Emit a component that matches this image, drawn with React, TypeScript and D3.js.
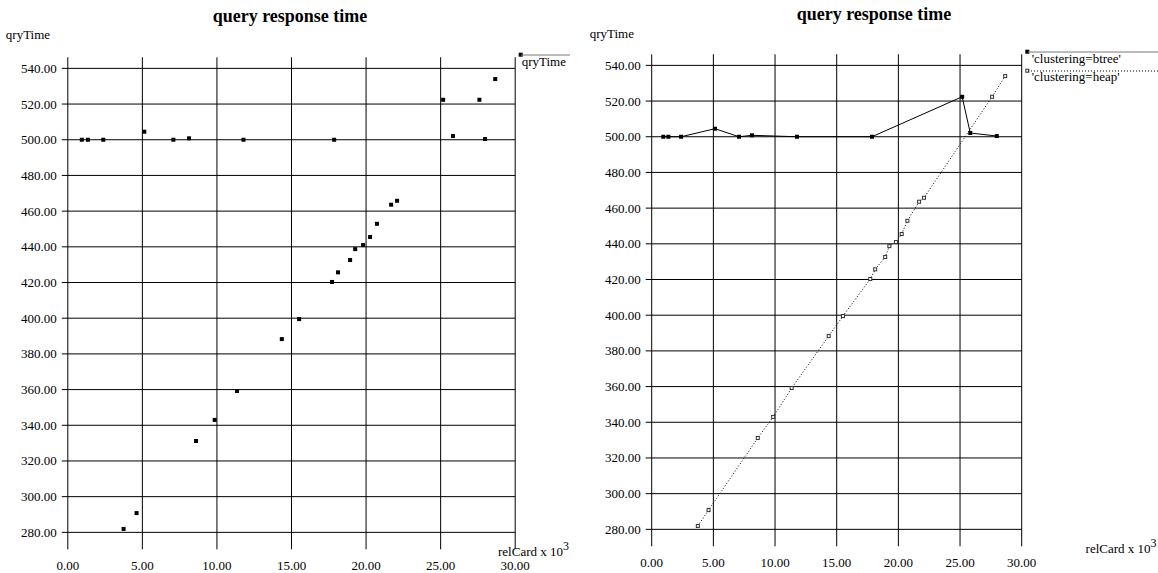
import React from 'react';
import { scaleLinear, line } from 'd3';

// values (relCard in thousands, qryTime)
const btreeCard = [0.94, 1.35, 2.38, 5.13, 7.08, 8.13, 11.78, 17.86, 25.17, 25.83, 27.98];
const btreeTime = [500.0, 500.0, 500.0, 504.5, 500.0, 500.8, 500.0, 500.0, 522.4, 502.1, 500.4];
const heapCard = [3.74, 4.61, 8.6, 9.85, 11.35, 14.35, 15.51, 17.72, 18.12, 18.93, 19.27, 19.8, 20.27, 20.73, 21.68, 22.08, 27.6, 28.66];
const heapTime = [281.9, 290.8, 331.2, 343.0, 359.2, 388.3, 399.5, 420.3, 425.7, 432.6, 438.7, 441.0, 445.5, 452.9, 463.6, 465.8, 522.4, 534.0];
const xTicks = [0, 5, 10, 15, 20, 25, 30];
const yTicks = [280, 300, 320, 340, 360, 380, 400, 420, 440, 460, 480, 500, 520, 540];
const legendRight = ["'clustering=btree'", "'clustering=heap'"];

const FONT = "Liberation Serif";
const txt = { fontFamily: FONT };

type Pt = [number, number];
const zip = (a: number[], b: number[]): Pt[] => a.map((v, i) => [v, b[i]]);

function Frame({ x, y, titleX, titleY, labelY, tickBase, relX, relY }: any) {
  const [x0, x1] = x.range();
  const [yb, yt] = y.range();
  return (
    <g>
      <text x={titleX} y={titleY} textAnchor="middle" fontWeight="bold" fontSize={18} style={txt}>query response time</text>
      <text x={x0 - 62} y={labelY} fontSize={13} style={txt}>qryTime</text>
      {xTicks.map((t) => (
        <g key={'x' + t}>
          <line x1={x(t)} x2={x(t)} y1={yt} y2={yb} stroke="#000" />
          <text x={x(t)} y={tickBase} textAnchor="middle" fontSize={13} style={txt}>{t.toFixed(2)}</text>
        </g>
      ))}
      {yTicks.map((t) => (
        <g key={'y' + t}>
          <line x1={x0 - 6} x2={x1} y1={y(t)} y2={y(t)} stroke="#000" />
          <text x={x0 - 11} y={y(t) + 4.5} textAnchor="end" fontSize={13} style={txt}>{t.toFixed(2)}</text>
        </g>
      ))}
      <text x={relX} y={relY} fontSize={13} style={txt}>
        relCard x 10<tspan dy={-6} fontSize={12}>3</tspan>
      </text>
    </g>
  );
}

export default function App() {
  const btree = zip(btreeCard, btreeTime);
  const heap = zip(heapCard, heapTime);
  const all = [...btree, ...heap];

  const xL = scaleLinear().domain([0, 30]).range([67.8, 515.2]);
  const yL = scaleLinear().domain([270.5, 546.2]).range([549.3, 57.3]);
  const xR = scaleLinear().domain([0, 30]).range([651.7, 1021.7]);
  const yR = scaleLinear().domain([270.5, 546.2]).range([546.3, 54.3]);

  const btreeLine = line<Pt>().x((d) => xR(d[0])).y((d) => yR(d[1]));
  const heapLine = line<Pt>().x((d) => xR(d[0])).y((d) => yR(d[1]));

  return (
    <svg width={1158} height={573} style={{ position: 'fixed', left: 0, top: 0, background: '#fff' }}
      fontFamily={FONT} fill="#000">
      <rect width={1158} height={573} fill="#fff" />
      {/* left: scatter of all runs */}
      <Frame x={xL} y={yL} titleX={290} titleY={22} labelY={39} tickBase={570} relX={498} relY={556} />
      {all.map((d, i) => (
        <rect key={'s' + i} x={xL(d[0]) - 2} y={yL(d[1]) - 2} width={4} height={4} fill="#000" />
      ))}
      <rect x={518.7} y={52.7} width={4} height={4} fill="#000" />
      <line x1={521} x2={570} y1={55} y2={55} stroke="#777" />
      <text x={521.7} y={66} fontSize={13} style={txt}>qryTime</text>

      {/* right: btree vs heap */}
      <Frame x={xR} y={yR} titleX={874} titleY={20} labelY={38} tickBase={567} relX={1085.6} relY={553} />
      <path d={btreeLine(btree) || ''} fill="none" stroke="#000" strokeWidth={1} />
      <path d={heapLine(heap) || ''} fill="none" stroke="#000" strokeWidth={1} strokeDasharray="1,2" />
      {btree.map((d, i) => (
        <rect key={'b' + i} x={xR(d[0]) - 2} y={yR(d[1]) - 2} width={4} height={4} fill="#000" />
      ))}
      {heap.map((d, i) => (
        <rect key={'h' + i} x={xR(d[0]) - 1.5} y={yR(d[1]) - 1.5} width={3} height={3} fill="#fff" stroke="#333" strokeWidth={1} />
      ))}
      <rect x={1025.3} y={49.7} width={4} height={4} fill="#000" />
      <line x1={1028} x2={1158} y1={52} y2={52} stroke="#777" />
      <text x={1031.7} y={63} fontSize={13} style={txt}>{legendRight[0]}</text>
      <rect x={1025.8} y={69.2} width={3} height={3} fill="#fff" stroke="#333" strokeWidth={1} />
      <line x1={1028} x2={1158} y1={71} y2={71} stroke="#000" strokeDasharray="1,2" />
      <text x={1031.7} y={81} fontSize={13} style={txt}>{legendRight[1]}</text>
    </svg>
  );
}
